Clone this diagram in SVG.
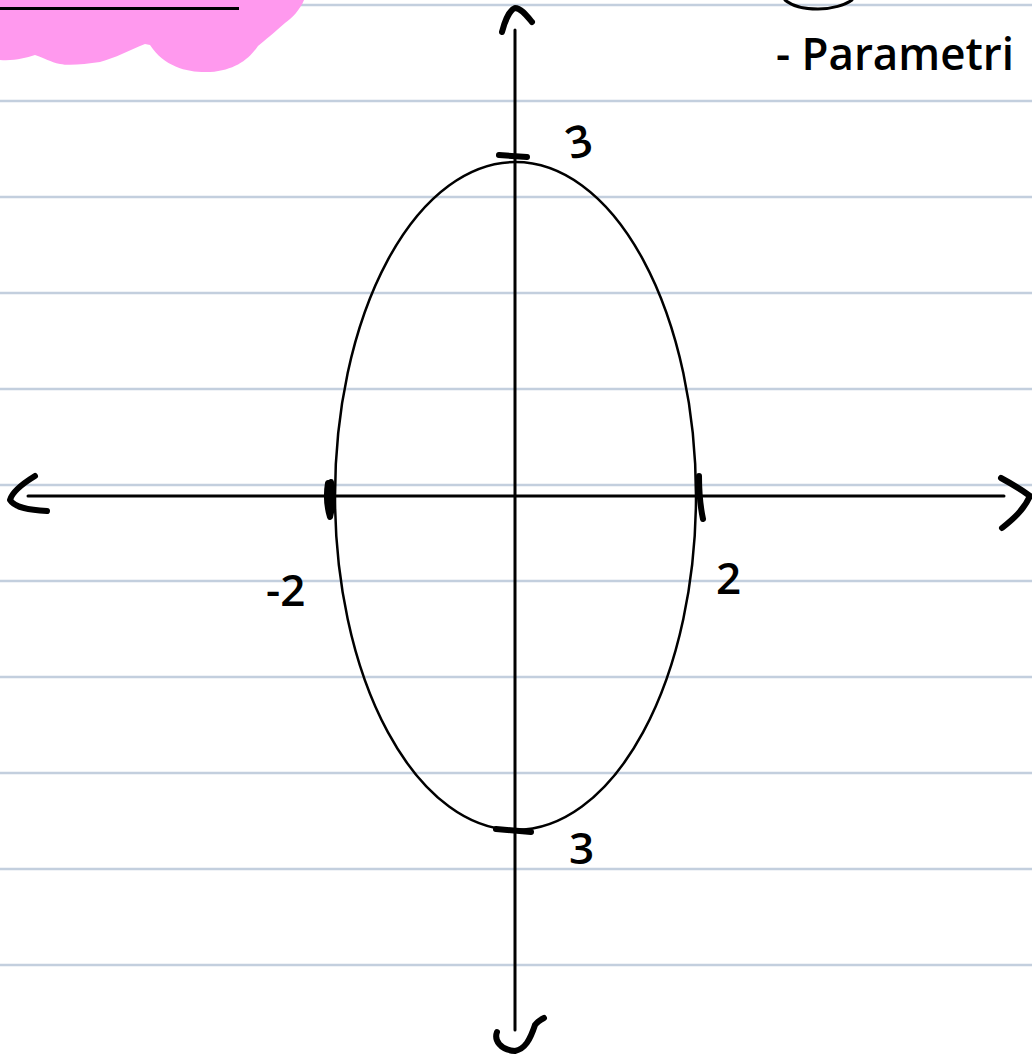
<svg xmlns="http://www.w3.org/2000/svg" width="1032" height="1057" viewBox="0 0 1032 1057">
<style>
.rule{stroke:#c3cfde;stroke-width:2.5}
.ax{stroke:#000;stroke-width:3;fill:none;stroke-linecap:round}
.pen{stroke:#000;stroke-width:6;fill:none;stroke-linecap:round;stroke-linejoin:round}
.lbl{font-family:"Open Sans","DejaVu Sans",sans-serif;font-size:44px;font-weight:600;fill:#000}
.note{font-family:"Open Sans","DejaVu Sans",sans-serif;font-size:46px;font-weight:600;fill:#000}
</style>
<rect width="1032" height="1057" fill="#fff"/>
<g id="rules">
<line class="rule" x1="0" y1="5" x2="1032" y2="5"/>
<line class="rule" x1="0" y1="101" x2="1032" y2="101"/>
<line class="rule" x1="0" y1="197" x2="1032" y2="197"/>
<line class="rule" x1="0" y1="293" x2="1032" y2="293"/>
<line class="rule" x1="0" y1="389" x2="1032" y2="389"/>
<line class="rule" x1="0" y1="485" x2="1032" y2="485"/>
<line class="rule" x1="0" y1="581" x2="1032" y2="581"/>
<line class="rule" x1="0" y1="677" x2="1032" y2="677"/>
<line class="rule" x1="0" y1="773" x2="1032" y2="773"/>
<line class="rule" x1="0" y1="869" x2="1032" y2="869"/>
<line class="rule" x1="0" y1="965" x2="1032" y2="965"/>
</g>
<g id="highlight">
<path d="M0,0 H304 C300,10 292,18 285,23 C275,32 265,40 258,46 C248,60 235,70 210,72 C190,73 165,68 150,45 L145,44 C130,50 115,58 100,62 C85,64 70,66 60,64 C50,62 45,58 35,55 C25,58 15,61 0,60 Z" fill="#ff99ee"/>
<line x1="0" y1="8.5" x2="239" y2="8.5" stroke="#000" stroke-width="3"/>
</g>
<g id="corner-note">
<path d="M785,0 C792,6 805,9 818,9 C832,9 845,5 852,0" class="ax" stroke-width="4.5"/>
<text x="776" y="70" class="note" textLength="238" lengthAdjust="spacingAndGlyphs">- Parametri</text>
</g>
<g id="connectors">
<line class="ax" x1="515" y1="30" x2="515" y2="1030"/>
<line class="ax" x1="28" y1="496" x2="1004" y2="496"/>
<path class="pen" d="M502,32 C505,20 510,10 515,8 C521,8 527,16 532,22"/>
<path class="pen" d="M35,476 C22,484 12,492 10,500 C15,508 30,510 47,511"/>
<path class="pen" d="M1001,478 C1012,484 1022,490 1030,496 C1024,510 1012,520 1002,528"/>
<path class="pen" d="M497,1032 C494,1040 500,1050 515,1051 C525,1049 530,1040 535,1025 C537,1022 540,1020 544,1018"/>
</g>
<g id="ellipse">
<ellipse cx="515.5" cy="496" rx="180.5" ry="334" fill="none" stroke="#000" stroke-width="2.5"/>
</g>
<g id="ticks">
<path class="pen" d="M499,155 L527,157"/>
<path class="pen" d="M496,829 L531,832" stroke-width="5"/>
<path class="pen" d="M328,483 C326,495 327,507 330,517 C333,505 333,492 331,482" stroke-width="5"/>
<path class="pen" d="M699,476 C699,490 700,505 703,519" stroke-width="6"/>
</g>
<g id="labels">
<text class="lbl" x="566" y="156" transform="rotate(-15 583 140)">3</text>
<text class="lbl" x="266" y="606">-2</text>
<text class="lbl" x="716" y="594">2</text>
<text class="lbl" x="569" y="864">3</text>
</g>
</svg>
